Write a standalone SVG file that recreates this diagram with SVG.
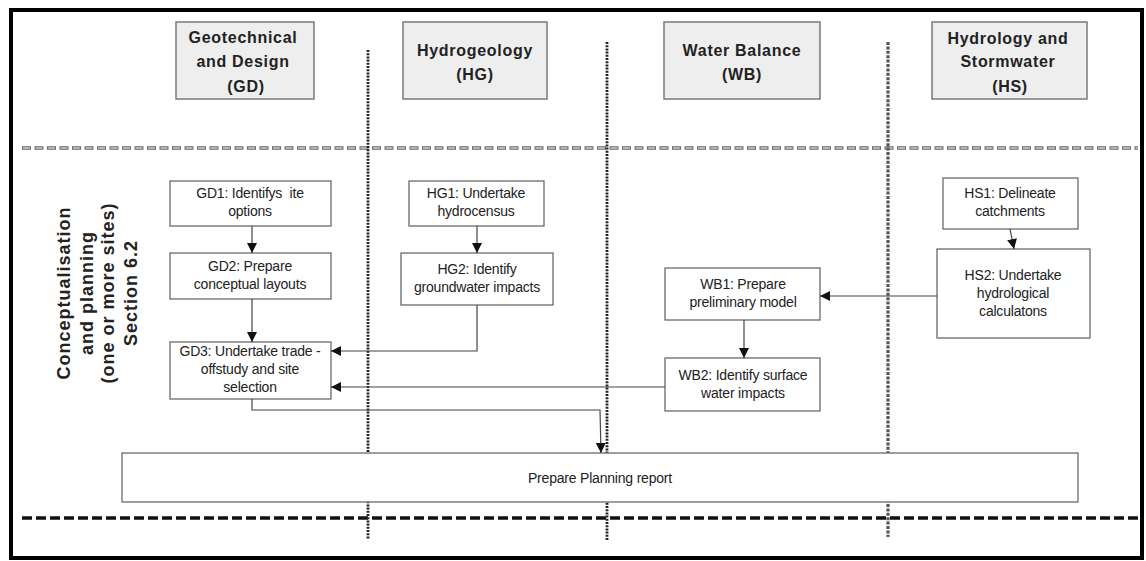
<svg xmlns="http://www.w3.org/2000/svg" width="1146" height="561" viewBox="0 0 1146 561">
<defs>
<style>
.hdr{fill:#eeeeee;stroke:#7a7a7a;stroke-width:1.5}
.hdrt{font-family:"Liberation Sans",Arial,sans-serif;font-size:16px;font-weight:bold;fill:#222;text-anchor:middle;letter-spacing:0.7px}
.box{fill:#ffffff;stroke:#6a6a6a;stroke-width:1.3}
.t{font-family:"Liberation Sans",Arial,sans-serif;font-size:14px;fill:#222;text-anchor:middle;white-space:pre;letter-spacing:-0.2px}
.side{font-family:"Liberation Sans",Arial,sans-serif;font-size:18px;font-weight:bold;fill:#222;text-anchor:middle;letter-spacing:1px}
.c{fill:none;stroke:#444;stroke-width:1.2}
.divA{stroke:#222;stroke-width:2.8;stroke-dasharray:2 1.2}
.divB{stroke:#555;stroke-width:3.2;stroke-dasharray:3 1.4}
</style>
<marker id="ah" viewBox="0 0 10 10" refX="10" refY="5" markerWidth="10" markerHeight="10" markerUnits="userSpaceOnUse" orient="auto">
<path d="M0,0 L10,5 L0,10 z" fill="#111"/>
</marker>
</defs>
<rect x="0" y="0" width="1146" height="561" fill="#ffffff"/>
<rect x="11" y="10" width="1131" height="548" fill="none" stroke="#000" stroke-width="4"/>

<g id="lanes">
<line x1="22" y1="148" x2="1138" y2="148" stroke="#666" stroke-width="3.5" stroke-dasharray="9 3.5"/>
<line x1="23" y1="148" x2="1138" y2="148" stroke="#fff" stroke-width="1.1" stroke-dasharray="7 5.5"/>
<line x1="22" y1="518" x2="1138" y2="518" stroke="#111" stroke-width="3.5" stroke-dasharray="10 4"/>
<line class="divA" x1="368" y1="50" x2="368" y2="539"/>
<line class="divA" x1="607" y1="42" x2="607" y2="540"/>
<line class="divB" x1="888" y1="42" x2="888" y2="537"/>
</g>

<g id="header-GD">
<rect class="hdr" x="176" y="22" width="138" height="77"/>
<text class="hdrt" x="243" y="43">Geotechnical</text>
<text class="hdrt" x="243" y="67">and Design</text>
<text class="hdrt" x="246" y="92">(GD)</text>
</g>
<g id="header-HG">
<rect class="hdr" x="403" y="22" width="144" height="77"/>
<text class="hdrt" x="475" y="56">Hydrogeology</text>
<text class="hdrt" x="475" y="80">(HG)</text>
</g>
<g id="header-WB">
<rect class="hdr" x="664" y="22" width="156" height="77"/>
<text class="hdrt" x="742" y="56">Water Balance</text>
<text class="hdrt" x="742" y="80">(WB)</text>
</g>
<g id="header-HS">
<rect class="hdr" x="932" y="22" width="155" height="77"/>
<text class="hdrt" x="1008" y="44">Hydrology and</text>
<text class="hdrt" x="1008" y="67">Stormwater</text>
<text class="hdrt" x="1010" y="92">(HS)</text>
</g>

<g id="phase-label">
<text class="side" transform="translate(70,293) rotate(-90)">Conceptualisation</text>
<text class="side" transform="translate(93,293) rotate(-90)">and planning</text>
<text class="side" transform="translate(114,293) rotate(-90)">(one or more sites)</text>
<text class="side" transform="translate(137,293) rotate(-90)">Section 6.2</text>
</g>

<g id="GD1">
<rect class="box" x="170" y="181" width="161" height="45"/>
<text class="t" x="250" y="198">GD1: Identifys  ite</text>
<text class="t" x="250" y="216">options</text>
</g>
<g id="GD2">
<rect class="box" x="170" y="253" width="161" height="46"/>
<text class="t" x="250" y="271">GD2: Prepare</text>
<text class="t" x="250" y="289">conceptual layouts</text>
</g>
<g id="GD3">
<rect class="box" x="170" y="342" width="161" height="57"/>
<text class="t" x="250" y="356">GD3: Undertake trade -</text>
<text class="t" x="250" y="374">offstudy and site</text>
<text class="t" x="250" y="392">selection</text>
</g>
<g id="HG1">
<rect class="box" x="409" y="181" width="135" height="45"/>
<text class="t" x="476" y="198">HG1: Undertake</text>
<text class="t" x="476" y="216">hydrocensus</text>
</g>
<g id="HG2">
<rect class="box" x="401" y="253" width="152" height="52"/>
<text class="t" x="477" y="274">HG2: Identify</text>
<text class="t" x="477" y="292">groundwater impacts</text>
</g>
<g id="WB1">
<rect class="box" x="665" y="268" width="155" height="52"/>
<text class="t" x="743" y="289">WB1: Prepare</text>
<text class="t" x="743" y="307">preliminary model</text>
</g>
<g id="WB2">
<rect class="box" x="665" y="358" width="155" height="53"/>
<text class="t" x="743" y="380">WB2: Identify surface</text>
<text class="t" x="743" y="398">water impacts</text>
</g>
<g id="HS1">
<rect class="box" x="943" y="178" width="135" height="51"/>
<text class="t" x="1010" y="198">HS1: Delineate</text>
<text class="t" x="1010" y="216">catchments</text>
</g>
<g id="HS2">
<rect class="box" x="937" y="249" width="153" height="89"/>
<text class="t" x="1013" y="280">HS2: Undertake</text>
<text class="t" x="1013" y="298">hydrological</text>
<text class="t" x="1013" y="316">calculatons</text>
</g>
<g id="PLAN">
<rect class="box" x="122" y="453" width="956" height="49"/>
<text class="t" x="600" y="483">Prepare Planning report</text>
</g>

<g id="connectors">
<line class="c" x1="252" y1="226" x2="252" y2="253" marker-end="url(#ah)"/>
<line class="c" x1="252" y1="299" x2="252" y2="342" marker-end="url(#ah)"/>
<line class="c" x1="477" y1="226" x2="477" y2="253" marker-end="url(#ah)"/>
<polyline class="c" points="477,305 477,351 331,351" marker-end="url(#ah)"/>
<line class="c" x1="665" y1="387" x2="331" y2="387" marker-end="url(#ah)"/>
<polyline class="c" points="252,399 252,410 600,410 601,453" marker-end="url(#ah)"/>
<line class="c" x1="744" y1="320" x2="744" y2="358" marker-end="url(#ah)"/>
<line class="c" x1="937" y1="296" x2="820" y2="296" marker-end="url(#ah)"/>
<line class="c" x1="1010" y1="229" x2="1014" y2="249" marker-end="url(#ah)"/>
</g>
</svg>
